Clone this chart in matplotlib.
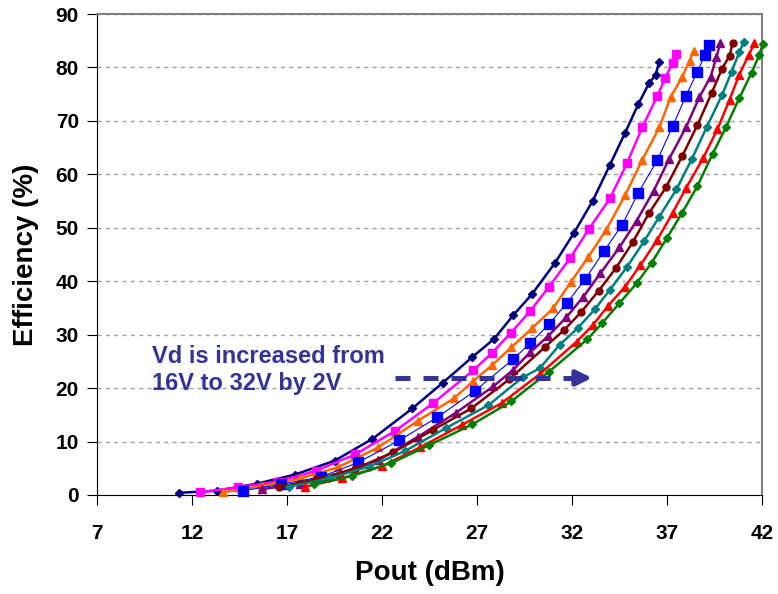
import matplotlib
matplotlib.use("Agg")
import matplotlib.pyplot as plt

plt.rcParams['font.family'] = ['Liberation Sans', 'DejaVu Sans']

# Pout (dBm) / efficiency (%) for Vd = 16V ... 32V (step 2V)
x16 = [11.3, 13.3, 15.4, 17.4, 19.5, 21.5, 23.6, 25.2, 26.75, 27.9, 28.9, 29.9, 31.1, 32.1, 33.1, 34.0, 34.8, 35.5, 36.05, 36.4, 36.6]
y16 = [0.4, 0.8, 2.1, 3.8, 6.4, 10.5, 16.2, 21.0, 25.8, 29.2, 33.6, 37.6, 43.4, 49.0, 55.1, 61.8, 67.8, 73.2, 77.0, 78.6, 81.1]

x18 = [12.4, 14.4, 16.5, 18.5, 20.6, 22.7, 24.7, 26.8, 27.8, 28.8, 29.8, 30.8, 31.9, 32.9, 34.0, 34.9, 35.7, 36.5, 36.9, 37.3, 37.5]
y18 = [0.5, 1.4, 2.5, 4.5, 7.6, 12.0, 17.2, 23.3, 26.6, 30.4, 34.4, 39.0, 44.3, 49.8, 55.5, 62.1, 68.8, 74.7, 78.0, 80.8, 82.5]

x20 = [13.65, 15.7, 17.7, 19.7, 21.8, 23.9, 25.8, 26.8, 27.8, 28.8, 29.9, 31.0, 31.95, 32.85, 33.8, 34.8, 35.7, 36.6, 37.2, 37.8, 38.2, 38.4]
y20 = [0.5, 1.7, 3.1, 5.2, 8.9, 13.9, 18.1, 21.3, 24.3, 27.6, 31.2, 34.9, 39.9, 44.5, 49.6, 56.1, 62.7, 68.8, 74.5, 78.2, 81.3, 83.1]

x22 = [14.7, 16.7, 18.8, 20.75, 22.9, 24.9, 26.9, 28.9, 29.8, 30.8, 31.75, 32.7, 33.7, 34.65, 35.5, 36.5, 37.3, 38.0, 38.6, 39.0, 39.2]
y22 = [0.8, 2.0, 3.4, 6.1, 10.2, 14.5, 19.5, 25.4, 28.4, 32.0, 36.0, 40.4, 45.7, 50.6, 56.6, 62.7, 69.0, 74.7, 79.2, 82.4, 84.2]

x24 = [15.7, 17.7, 19.8, 21.8, 23.9, 25.9, 27.85, 28.9, 29.8, 30.75, 31.7, 32.6, 33.5, 34.5, 35.4, 36.3, 37.1, 38.0, 38.7, 39.3, 39.6, 39.8]
y24 = [1.1, 2.1, 4.1, 6.5, 10.9, 15.4, 20.3, 23.4, 26.7, 29.75, 33.25, 37.1, 41.5, 46.35, 51.3, 56.9, 62.8, 68.8, 74.4, 78.3, 81.9, 84.5]

x26 = [16.6, 18.5, 20.6, 22.6, 24.7, 26.7, 28.7, 30.6, 31.6, 32.5, 33.4, 34.3, 35.2, 36.05, 36.95, 37.8, 38.6, 39.35, 39.9, 40.3, 40.45]
y26 = [1.5, 2.9, 4.9, 8.0, 12.2, 16.2, 21.65, 27.75, 30.9, 34.3, 38.2, 42.4, 47.3, 52.7, 57.6, 63.4, 69.2, 75.2, 79.8, 82.2, 84.6]

x28 = [17.1, 19.2, 21.3, 23.2, 25.35, 27.6, 29.4, 30.3, 31.35, 32.3, 33.2, 34.0, 34.9, 35.8, 36.6, 37.5, 38.3, 39.1, 39.9, 40.4, 40.8, 41.05]
y28 = [1.55, 3.1, 5.3, 8.2, 12.5, 16.8, 22.0, 23.7, 28.1, 31.2, 34.75, 38.4, 42.7, 47.5, 52.1, 57.2, 62.8, 68.9, 74.85, 79.2, 82.8, 84.8]

x30 = [17.95, 19.9, 22.0, 24.0, 26.2, 28.3, 30.3, 32.25, 33.1, 33.9, 34.8, 35.6, 36.5, 37.3, 38.0, 38.9, 39.65, 40.3, 40.8, 41.3, 41.6]
y30 = [1.55, 3.1, 5.4, 8.9, 13.1, 17.2, 22.6, 28.7, 31.8, 35.4, 39.0, 43.0, 47.8, 52.8, 57.4, 63.0, 68.4, 74.0, 78.6, 82.3, 84.5]

x32 = [18.4, 20.4, 22.5, 24.5, 26.75, 28.8, 30.8, 32.8, 33.6, 34.5, 35.4, 36.2, 37.0, 37.8, 38.6, 39.4, 40.1, 40.8, 41.45, 41.85, 42.05]
y32 = [2.0, 3.55, 6.0, 9.35, 13.2, 17.5, 23.1, 29.1, 32.2, 35.9, 39.6, 43.5, 48.1, 52.8, 57.8, 63.8, 68.8, 74.2, 79.0, 82.3, 84.4]

series = [
    (x16, y16, '#000080', 'D', 4, 1.8),
    (x18, y18, '#ff00ff', 's', 5.5, 1.8),
    (x20, y20, '#ff6600', '^', 6, 1.8),
    (x22, y22, '#0000ff', 's', 6.5, 0.8),
    (x24, y24, '#800080', '^', 6, 1.8),
    (x26, y26, '#800000', 'o', 5, 1.8),
    (x28, y28, '#008080', 'D', 4.5, 1.8),
    (x30, y30, '#ff0000', '^', 6, 1.8),
    (x32, y32, '#008000', 'D', 4.5, 1.8),
]

fig = plt.figure(figsize=(7.78, 5.94), dpi=100)
ax = fig.add_axes([0.1247, 0.1667, 0.8547, 0.8097])

for xs, ys, c, m, ms, lw in series:
    ax.plot(xs, ys, color=c, marker=m, markersize=ms, lw=lw, clip_on=False, zorder=3)

ax.set_xlim(7, 42)
ax.set_ylim(0, 90)
ax.set_xticks(range(7, 43, 5))
ax.set_yticks(range(0, 91, 10))

ax.yaxis.grid(True, color='#a0a0a0', linestyle=(0, (3, 3)), lw=1)
ax.set_axisbelow(True)

for s in ['top', 'right']:
    ax.spines[s].set_color('#808080')
    ax.spines[s].set_linewidth(1.5)
ax.spines['left'].set_color('black')
ax.spines['bottom'].set_color('black')

ax.tick_params(axis='x', direction='out', length=7, pad=14, labelsize=15)
ax.tick_params(axis='y', direction='out', length=7, pad=6, labelsize=15)
for lab in ax.get_xticklabels() + ax.get_yticklabels():
    lab.set_fontweight('bold')

ax.set_xlabel('Pout (dBm)', fontsize=20, fontweight='bold', labelpad=12)
ax.set_ylabel('Efficiency (%)', fontsize=20, fontweight='bold', labelpad=12)

note_color = '#333399'
ax.text(9.9, 23.4, 'Vd is increased from\n16V to 32V by 2V', color=note_color,
        fontsize=17, fontweight='bold', va='center', ha='left', linespacing=1.25)

arrow_x = [22.7, 32.4]
arrow_y = [21.9, 21.9]
ax.plot(arrow_x, arrow_y, color=note_color, lw=3.6, dashes=(3, 2.6), zorder=4)
ax.annotate('', xy=(33.05, 21.9), xytext=(32.2, 21.9),
            arrowprops=dict(arrowstyle='-|>,head_length=0.9,head_width=0.45',
                            color=note_color, lw=3.6, shrinkA=0, shrinkB=0), zorder=4)

fig.savefig('out.png', dpi=100)
